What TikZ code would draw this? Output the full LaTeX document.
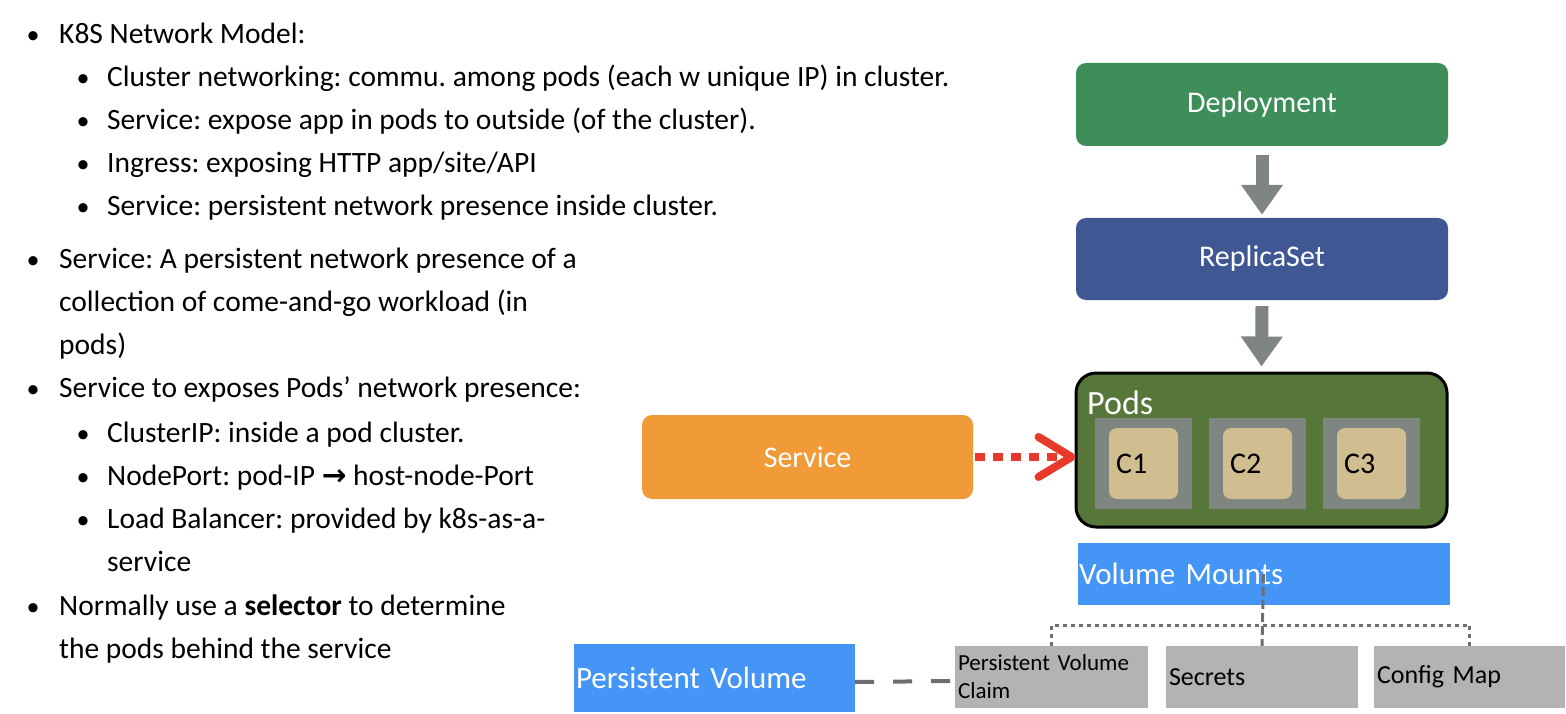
\documentclass[tikz,border=0pt]{standalone}
\usepackage{fontspec}
\setmainfont{Carlito}
\newfontfamily\arrowfont{DejaVu Sans}
\usetikzlibrary{arrows.meta}
\frenchspacing
\definecolor{depgreen}{HTML}{3E8E5A}
\definecolor{rsblue}{HTML}{3F5894}
\definecolor{podgreen}{HTML}{56763A}
\definecolor{cgray}{HTML}{7F8580}
\definecolor{ctan}{HTML}{D0BE91}
\definecolor{svcorange}{HTML}{F09A38}
\definecolor{vmblue}{HTML}{4495F5}
\definecolor{boxgray}{HTML}{B3B3B3}
\definecolor{linegray}{HTML}{6E6E6E}
\definecolor{redarrow}{HTML}{E8392A}
\tikzset{
  bodytext/.style={anchor=base west, inner sep=0pt, font=\fontsize{29.5}{35}\selectfont},
  bul/.style={anchor=base, inner sep=0pt, font=\fontsize{26}{31}\selectfont},
  rbox/.style={rounded corners=10pt, inner sep=0pt, text=white, font=\fontsize{30}{36}\selectfont},
  graybox/.style={fill=cgray, inner sep=0pt, minimum width=97pt, minimum height=91pt},
  tanbox/.style={fill=ctan, rounded corners=8pt, inner xsep=7pt, inner ysep=0pt, text width=55pt, align=left, minimum height=71pt, font=\fontsize{30}{36}\selectfont},
  sqbox/.style={inner sep=0pt, align=left},
  blockarrow/.style={draw=cgray, line width=13pt, -{Triangle[width=40pt,length=30pt]}},
  dotline/.style={draw=linegray, line width=3pt, dash pattern=on 4pt off 4pt},
  dashline/.style={draw=linegray, line width=3pt, dash pattern=on 9pt off 4pt},
  pvline/.style={draw=linegray, line width=4pt, dash pattern=on 19pt off 19pt},
}
\begin{document}
\begin{tikzpicture}[x=1pt,y=-1pt]
\useasboundingbox (0,0) rectangle (1566,714);
% ---- left text ----
\node[bul] (b1) at (33,44) {•};
\node[bodytext] (t1) at (59,44) {K8S Network Model:};
\node[bul] (b2) at (83,87) {•};
\node[bodytext] (t2) at (107,87) {Cluster networking: commu. among pods (each w unique IP) in cluster.};
\node[bul] (b3) at (83,130) {•};
\node[bodytext] (t3) at (107,130) {Service: expose app in pods to outside (of the cluster).};
\node[bul] (b4) at (83,173) {•};
\node[bodytext] (t4) at (107,173) {Ingress: exposing HTTP app/site/API};
\node[bul] (b5) at (83,216) {•};
\node[bodytext] (t5) at (107,216) {Service: persistent network presence inside cluster.};
\node[bul] (b6) at (33,268) {•};
\node[bodytext] (t6) at (59,268) {Service: A persistent network presence of a};
\node[bodytext] (t7) at (59,311) {collection of come-and-go workload (in};
\node[bodytext] (t8) at (59,354) {pods)};
\node[bul] (b9) at (33,397) {•};
\node[bodytext] (t9) at (59,397) {Service to exposes Pods’ network presence:};
\node[bul] (b10) at (83,442) {•};
\node[bodytext] (t10) at (107,442) {ClusterIP: inside a pod cluster.};
\node[bul] (b11) at (83,485) {•};
\node[bodytext] (t11) at (107,485) {NodePort: pod-IP {\arrowfont\bfseries →} host-node-Port};
\node[bul] (b12) at (83,528) {•};
\node[bodytext] (t12) at (107,528) {Load Balancer: provided by k8s-as-a-};
\node[bodytext] (t13) at (107,571) {service};
\node[bul] (b14) at (33,615) {•};
\node[bodytext] (t14) at (59,615) {Normally use a \textbf{selector} to determine};
\node[bodytext] (t15) at (59,658) {the pods behind the service};
% ---- right diagram ----
\node[rbox, fill=depgreen, minimum width=372pt, minimum height=83pt] (dep) at (1262,104.5) {Deployment};
\node[rbox, fill=rsblue, minimum width=372pt, minimum height=82pt] (rs) at (1262,259) {ReplicaSet};
\node[draw=black, line width=3pt, fill=podgreen, rounded corners=20pt, inner sep=0pt, minimum width=371pt, minimum height=154pt] (pods) at (1261.5,450) {};
\node[anchor=base west, inner sep=0pt, text=white, font=\fontsize{34}{40}\selectfont] (podslbl) at (1087,414) {Pods};
\node[graybox] (g1) at (1143.5,463.5) {};
\node[graybox] (g2) at (1257.5,463.5) {};
\node[graybox] (g3) at (1371.5,463.5) {};
\node[tanbox] (c1) at (g1.center) {C1};
\node[tanbox] (c2) at (g2.center) {C2};
\node[tanbox] (c3) at (g3.center) {C3};
\draw[blockarrow] ([yshift=-9pt]dep.south) -- ([yshift=3pt]rs.north);
\draw[blockarrow] ([yshift=-6pt]rs.south) -- ([yshift=5pt]pods.north);
\node[rbox, fill=svcorange, minimum width=331pt, minimum height=84pt] (svc) at (807.5,457) {Service};
\draw[redarrow, line width=8pt, dash pattern=on 10pt off 8pt] ([xshift=2pt]svc.east) -- ([xshift=-16pt]svc.east -| pods.west);
\draw[redarrow, line width=8pt, line cap=round, line join=round] ([xshift=-36pt,yshift=20pt]svc.east -| pods.west) -- ([xshift=-3pt]svc.east -| pods.west) -- ([xshift=-36pt,yshift=-20pt]svc.east -| pods.west);
% volumes
\node[sqbox, fill=vmblue, minimum width=372pt, minimum height=62pt, text=white, font=\fontsize{31}{36}\selectfont, text width=369pt, inner xsep=0pt, inner ysep=0pt, xshift=1.5pt] (vm) at (1262,574) {Volume Mounts};
\node[sqbox, fill=vmblue, minimum height=68pt, text=white, font=\fontsize{31}{36}\selectfont, text width=277pt, inner xsep=2pt] (pv) at (714.5,678) {Persistent Volume};
\node[sqbox, fill=boxgray, minimum height=62pt, font=\fontsize{23}{28}\selectfont, text width=187pt, inner xsep=3pt] (pvc) at (1051.5,677) {Persistent Volume\\Claim};
\node[sqbox, fill=boxgray, minimum height=62pt, font=\fontsize{26}{31}\selectfont, text width=186pt, inner xsep=3pt] (sec) at (1262,677) {Secrets};
\node[sqbox, fill=boxgray, minimum height=62pt, font=\fontsize{26}{31}\selectfont, text width=185pt, inner xsep=3pt] (cm) at (1469.5,677) {Config Map};
\coordinate (bus) at (1262,625);
\draw[dashline] (vm.center) -- (sec.north);
\draw[dotline] (pvc.north) |- (bus) -- (cm.north |- bus) -- (cm.north);
\draw[pvline] ([yshift=-4pt]pv.east) -- ([yshift=-4pt]pvc.west);
\end{tikzpicture}
\end{document}
